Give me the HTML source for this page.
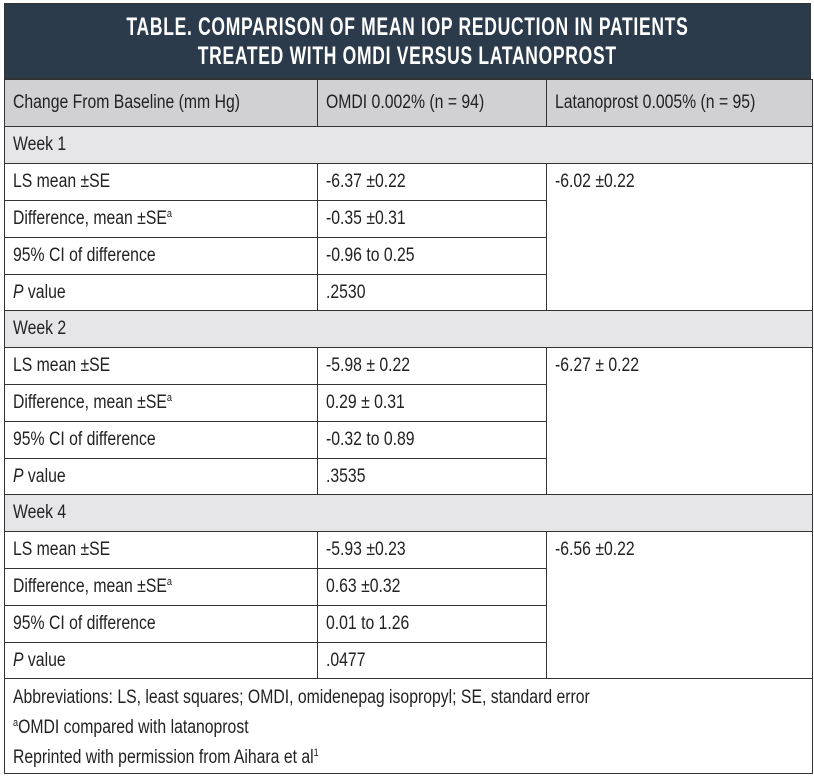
<!DOCTYPE html>
<html><head><style>
body{margin:0;background:#fff;width:814px;height:776px;overflow:hidden;font-family:"Liberation Sans",sans-serif;color:#222;}
.wrap{position:absolute;left:4px;top:3px;width:807px;}
.hdr{background:#2b3b4c;height:76px;color:#fff;text-align:center;font-weight:bold;font-size:25px;line-height:29px;padding-top:9px;box-sizing:border-box;border:1px solid #333;}
.hdr span{display:inline-block;transform:scaleX(0.70);transform-origin:center;white-space:nowrap;letter-spacing:1px;}
table{border-collapse:collapse;width:808px;font-size:19px;table-layout:fixed;}
td{border:1px solid #333;padding:0 8px;height:37px;box-sizing:border-box;white-space:nowrap;overflow:hidden;}
td span{display:inline-block;transform:scaleX(0.83);transform-origin:left center;}
tr.p td{height:36px;}
tr.h td{background:#d1d1d3;height:47px;}
tr.w td{background:#e6e6e8;height:37px;}
.foot td{height:95px;line-height:30px;vertical-align:top;padding-top:4px;}
sup{font-size:11px;line-height:0;vertical-align:7px;}
</style></head><body>
<div class="wrap">
<div class="hdr"><span>TABLE. COMPARISON OF MEAN IOP REDUCTION IN PATIENTS</span><br><span>TREATED WITH OMDI VERSUS LATANOPROST</span></div>
<table>
<colgroup><col style="width:313px"><col style="width:229px"><col style="width:266px"></colgroup>
<tr class="h"><td><span>Change From Baseline (mm Hg)</span></td><td><span>OMDI 0.002% (n = 94)</span></td><td><span>Latanoprost 0.005% (n = 95)</span></td></tr>
<tr class="w"><td colspan="3"><span>Week 1</span></td></tr>
<tr><td><span>LS mean ±SE</span></td><td><span>-6.37 ±0.22</span></td><td rowspan="4" style="vertical-align:top;padding-top:7px"><span>-6.02 ±0.22</span></td></tr>
<tr><td><span>Difference, mean ±SE<sup>a</sup></span></td><td><span>-0.35 ±0.31</span></td></tr>
<tr><td><span>95% CI of difference</span></td><td><span>-0.96 to 0.25</span></td></tr>
<tr class="p"><td><span><i>P</i> value</span></td><td><span>.2530</span></td></tr>
<tr class="w"><td colspan="3"><span>Week 2</span></td></tr>
<tr><td><span>LS mean ±SE</span></td><td><span>-5.98 ± 0.22</span></td><td rowspan="4" style="vertical-align:top;padding-top:7px"><span>-6.27 ± 0.22</span></td></tr>
<tr><td><span>Difference, mean ±SE<sup>a</sup></span></td><td><span>0.29 ± 0.31</span></td></tr>
<tr><td><span>95% CI of difference</span></td><td><span>-0.32 to 0.89</span></td></tr>
<tr class="p"><td><span><i>P</i> value</span></td><td><span>.3535</span></td></tr>
<tr class="w"><td colspan="3"><span>Week 4</span></td></tr>
<tr><td><span>LS mean ±SE</span></td><td><span>-5.93 ±0.23</span></td><td rowspan="4" style="vertical-align:top;padding-top:7px"><span>-6.56 ±0.22</span></td></tr>
<tr><td><span>Difference, mean ±SE<sup>a</sup></span></td><td><span>0.63 ±0.32</span></td></tr>
<tr><td><span>95% CI of difference</span></td><td><span>0.01 to 1.26</span></td></tr>
<tr class="p"><td><span><i>P</i> value</span></td><td><span>.0477</span></td></tr>
<tr class="foot"><td colspan="3"><span>Abbreviations: LS, least squares; OMDI, omidenepag isopropyl; SE, standard error<br><sup>a</sup>OMDI compared with latanoprost<br>Reprinted with permission from Aihara et al<sup>1</sup></span></td></tr>
</table>
</div>
</body></html>
